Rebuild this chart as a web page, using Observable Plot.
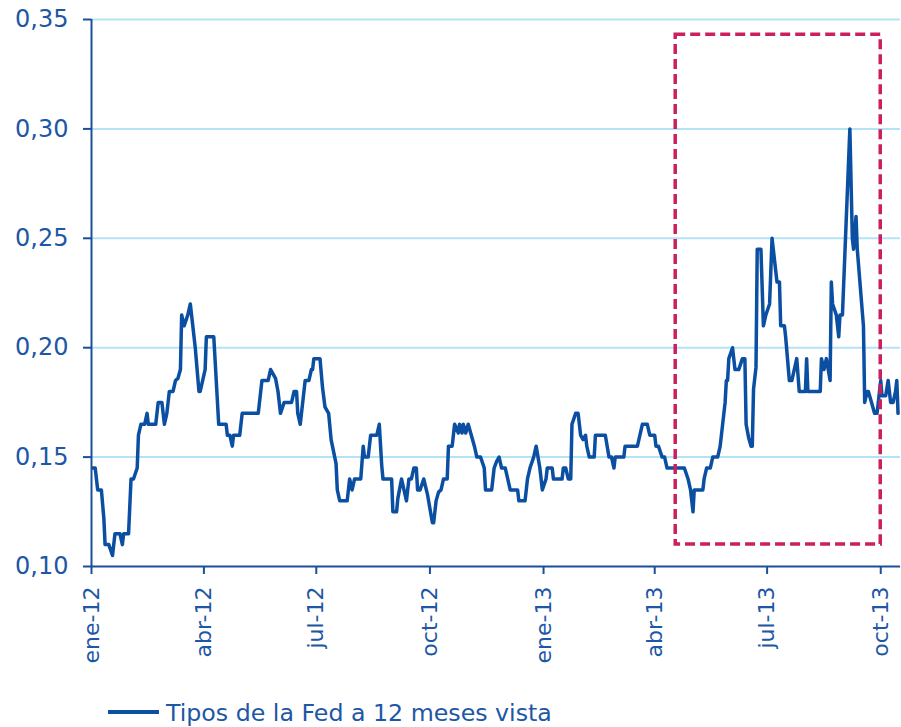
<!DOCTYPE html>
<html><head><meta charset="utf-8">
<script src="https://cdn.jsdelivr.net/npm/d3@7"></script>
<script src="https://cdn.jsdelivr.net/npm/@observablehq/plot@0.6"></script>
<style>
html,body{margin:0;padding:0;background:#fff;}
body{width:901px;height:727px;position:relative;overflow:hidden;font-family:"DejaVu Sans",sans-serif;}
#legend-line{position:absolute;left:108px;top:710px;width:51px;height:4px;background:#0d4fa1;}
#legend-text{position:absolute;left:166px;top:699px;line-height:28px;font-size:23.7px;color:#1d57a5;white-space:nowrap;}
</style></head><body>
<div id="chart"></div>
<div id="legend-line"></div><div id="legend-text"></div>
<script>
const dates = ["2012-01-02","2012-01-04","2012-01-06","2012-01-09","2012-01-11","2012-01-12","2012-01-15","2012-01-18","2012-01-19","2012-01-20","2012-01-24","2012-01-26","2012-01-27","2012-01-31","2012-02-02","2012-02-04","2012-02-07","2012-02-08","2012-02-10","2012-02-13","2012-02-15","2012-02-16","2012-02-22","2012-02-24","2012-02-27","2012-02-29","2012-03-02","2012-03-04","2012-03-07","2012-03-09","2012-03-11","2012-03-13","2012-03-14","2012-03-16","2012-03-19","2012-03-21","2012-03-23","2012-03-25","2012-03-28","2012-03-29","2012-04-02","2012-04-03","2012-04-09","2012-04-13","2012-04-19","2012-04-20","2012-04-22","2012-04-24","2012-04-25","2012-04-30","2012-05-02","2012-05-15","2012-05-18","2012-05-23","2012-05-25","2012-05-29","2012-05-31","2012-06-02","2012-06-05","2012-06-11","2012-06-13","2012-06-15","2012-06-16","2012-06-18","2012-06-20","2012-06-22","2012-06-25","2012-06-27","2012-06-28","2012-06-29","2012-07-04","2012-07-06","2012-07-08","2012-07-11","2012-07-13","2012-07-17","2012-07-18","2012-07-20","2012-07-26","2012-07-28","2012-07-30","2012-08-01","2012-08-06","2012-08-08","2012-08-09","2012-08-12","2012-08-14","2012-08-19","2012-08-21","2012-08-23","2012-08-24","2012-08-31","2012-09-01","2012-09-04","2012-09-05","2012-09-08","2012-09-10","2012-09-12","2012-09-14","2012-09-16","2012-09-18","2012-09-20","2012-09-21","2012-09-23","2012-09-26","2012-09-29","2012-10-03","2012-10-04","2012-10-06","2012-10-08","2012-10-10","2012-10-12","2012-10-15","2012-10-16","2012-10-19","2012-10-21","2012-10-24","2012-10-25","2012-10-27","2012-10-28","2012-10-30","2012-11-01","2012-11-03","2012-11-06","2012-11-08","2012-11-11","2012-11-14","2012-11-15","2012-11-20","2012-11-22","2012-11-24","2012-11-26","2012-11-28","2012-12-01","2012-12-03","2012-12-05","2012-12-11","2012-12-12","2012-12-17","2012-12-19","2012-12-21","2012-12-24","2012-12-26","2012-12-29","2012-12-31","2013-01-03","2013-01-04","2013-01-08","2013-01-09","2013-01-16","2013-01-17","2013-01-19","2013-01-21","2013-01-23","2013-01-24","2013-01-27","2013-01-29","2013-01-31","2013-02-02","2013-02-04","2013-02-05","2013-02-07","2013-02-11","2013-02-12","2013-02-20","2013-02-23","2013-02-25","2013-02-27","2013-02-28","2013-03-07","2013-03-08","2013-03-18","2013-03-22","2013-03-26","2013-03-28","2013-04-01","2013-04-02","2013-04-04","2013-04-07","2013-04-09","2013-04-11","2013-04-25","2013-04-28","2013-04-30","2013-05-02","2013-05-03","2013-05-10","2013-05-11","2013-05-13","2013-05-16","2013-05-18","2013-05-22","2013-05-24","2013-05-28","2013-05-29","2013-05-30","2013-05-31","2013-06-03","2013-06-05","2013-06-08","2013-06-11","2013-06-13","2013-06-14","2013-06-16","2013-06-18","2013-06-19","2013-06-20","2013-06-22","2013-06-23","2013-06-26","2013-06-28","2013-06-30","2013-07-03","2013-07-05","2013-07-09","2013-07-11","2013-07-12","2013-07-15","2013-07-16","2013-07-19","2013-07-21","2013-07-25","2013-07-27","2013-08-01","2013-08-02","2013-08-03","2013-08-13","2013-08-14","2013-08-16","2013-08-18","2013-08-21","2013-08-22","2013-08-23","2013-08-26","2013-08-28","2013-08-29","2013-08-31","2013-09-06","2013-09-08","2013-09-09","2013-09-11","2013-09-12","2013-09-17","2013-09-18","2013-09-20","2013-09-21","2013-09-26","2013-09-28","2013-10-01","2013-10-02","2013-10-05","2013-10-07","2013-10-09","2013-10-11","2013-10-13","2013-10-14","2013-10-15"];
const values = [0.145,0.145,0.135,0.135,0.122,0.110,0.110,0.105,0.110,0.115,0.115,0.110,0.115,0.115,0.140,0.140,0.145,0.160,0.165,0.165,0.170,0.165,0.165,0.175,0.175,0.165,0.170,0.180,0.180,0.185,0.186,0.190,0.215,0.210,0.215,0.220,0.210,0.200,0.180,0.180,0.190,0.205,0.205,0.165,0.165,0.160,0.160,0.155,0.160,0.160,0.170,0.170,0.185,0.185,0.190,0.186,0.180,0.170,0.175,0.175,0.180,0.180,0.170,0.165,0.175,0.185,0.185,0.190,0.190,0.195,0.195,0.182,0.173,0.170,0.158,0.147,0.135,0.130,0.130,0.140,0.135,0.140,0.140,0.155,0.150,0.150,0.160,0.160,0.165,0.146,0.140,0.140,0.125,0.125,0.131,0.140,0.135,0.130,0.140,0.140,0.145,0.145,0.135,0.135,0.140,0.133,0.120,0.120,0.130,0.134,0.135,0.140,0.140,0.155,0.155,0.165,0.161,0.165,0.161,0.165,0.161,0.165,0.161,0.155,0.150,0.150,0.145,0.135,0.135,0.145,0.148,0.150,0.145,0.145,0.140,0.135,0.135,0.130,0.130,0.140,0.145,0.150,0.155,0.145,0.135,0.140,0.145,0.145,0.140,0.140,0.145,0.145,0.140,0.140,0.165,0.170,0.170,0.160,0.158,0.160,0.155,0.150,0.150,0.160,0.160,0.150,0.150,0.145,0.150,0.150,0.155,0.155,0.165,0.165,0.160,0.160,0.155,0.155,0.150,0.150,0.145,0.145,0.140,0.135,0.125,0.135,0.135,0.140,0.145,0.145,0.150,0.150,0.155,0.175,0.185,0.185,0.195,0.200,0.190,0.190,0.195,0.195,0.165,0.159,0.155,0.155,0.181,0.191,0.245,0.245,0.210,0.215,0.220,0.250,0.230,0.230,0.210,0.210,0.205,0.185,0.185,0.195,0.180,0.180,0.195,0.180,0.180,0.195,0.190,0.195,0.185,0.230,0.220,0.215,0.205,0.215,0.215,0.300,0.250,0.245,0.260,0.245,0.210,0.175,0.180,0.180,0.170,0.170,0.185,0.178,0.178,0.185,0.175,0.175,0.180,0.185,0.170];
const seriesName = "Tipos de la Fed a 12 meses vista";
const yTicks = [0.10, 0.15, 0.20, 0.25, 0.30, 0.35];
const yTickLabels = ["0,10", "0,15", "0,20", "0,25", "0,30", "0,35"];
const xTickDates = ["2012-01-01","2012-04-01","2012-07-01","2012-10-01","2013-01-01","2013-04-01","2013-07-01","2013-10-01"];
const xTickLabels = ["ene-12","abr-12","jul-12","oct-12","ene-13","abr-13","jul-13","oct-13"];
const xDomain = ["2012-01-01", "2013-10-17"];
const boxDates = ["2013-04-18", "2013-10-01"];
const boxValues = [0.11, 0.343];

const data = dates.map((d, i) => ({date: new Date(d), value: values[i]}));
const xTicks = xTickDates.map(d => new Date(d));
const xLabelMap = new Map(xTicks.map((d, i) => [+d, xTickLabels[i]]));
const yLabelMap = new Map(yTicks.map((v, i) => [Math.round(v * 100), yTickLabels[i]]));
const box = [{x1: new Date(boxDates[0]), x2: new Date(boxDates[1]), y1: boxValues[0], y2: boxValues[1]}];

const textColor = "#1d57a5";
const axisColor = "#1a4f9c";

const chart = Plot.plot({
  width: 901,
  height: 690,
  marginLeft: 91,
  marginRight: 1,
  marginTop: 19,
  marginBottom: 124,
  style: {fontFamily: "'DejaVu Sans', sans-serif", background: "white", overflow: "visible"},
  x: {type: "utc", domain: xDomain.map(d => new Date(d))},
  y: {domain: [yTicks[0], yTicks[yTicks.length - 1]]},
  marks: [
    Plot.gridY(yTicks.slice(1), {stroke: "#b5e3f6", strokeOpacity: 1, strokeWidth: 2}),
    Plot.axisY(yTicks, {
      tickFormat: d => yLabelMap.get(Math.round(d * 100)),
      tickSize: 8, tickPadding: 15, stroke: axisColor, strokeWidth: 2,
      fill: textColor, fontSize: 24, label: null
    }),
    Plot.axisX(xTicks, {
      tickFormat: d => xLabelMap.get(+d),
      tickSize: 8, tickPadding: 12, tickRotate: -90, stroke: axisColor, strokeWidth: 2,
      fill: textColor, fontSize: 22, label: null
    }),
    Plot.line(data, {x: "date", y: "value", stroke: "#0b4fa2", strokeWidth: 3.5, strokeLinejoin: "round"}),
    Plot.rect(box, {x1: "x1", x2: "x2", y1: "y1", y2: "y2", fill: "none", stroke: "#cc1f5f", strokeWidth: 3.5, strokeDasharray: "10,5"}),
    Plot.ruleY([yTicks[0]], {stroke: axisColor, strokeWidth: 2}),
    Plot.ruleX([new Date(xDomain[0])], {stroke: axisColor, strokeWidth: 2})
  ]
});
document.getElementById("chart").appendChild(chart);
document.getElementById("legend-text").textContent = seriesName;
</script>
</body></html>
